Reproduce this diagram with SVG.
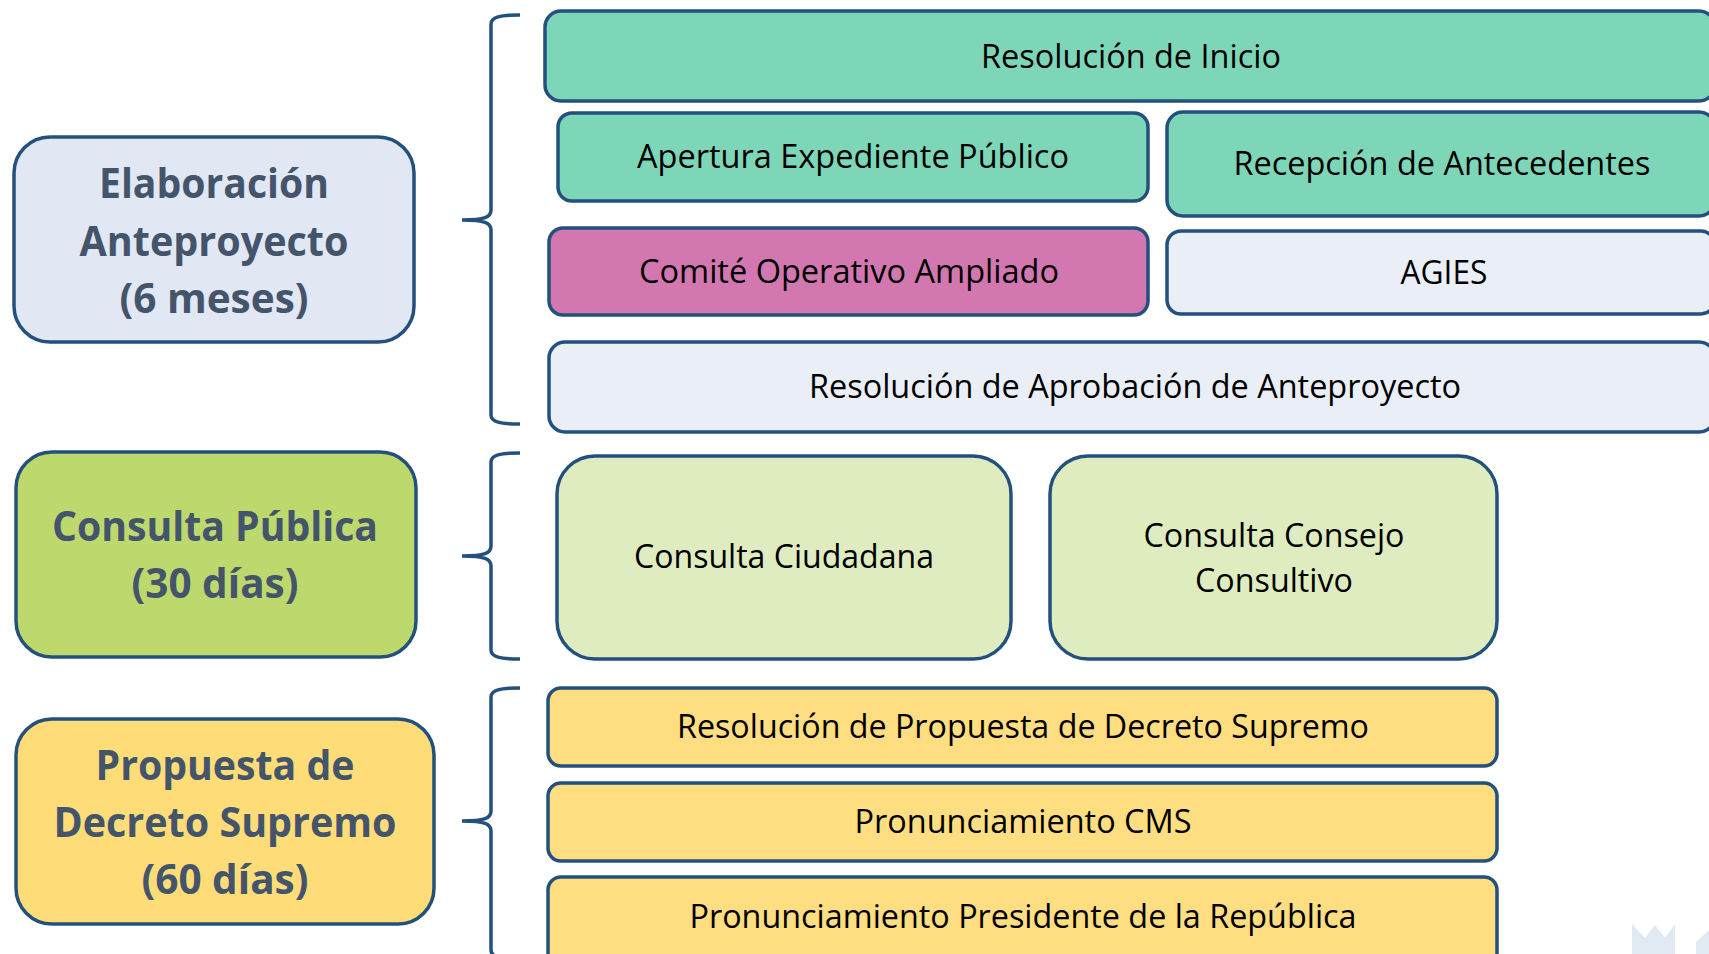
<svg xmlns="http://www.w3.org/2000/svg" width="1709" height="954" viewBox="0 0 1709 954">
<defs>
<style>
.box{stroke:#23507D;stroke-width:3.5}
.phase{font-family:"Open Sans","Liberation Sans",sans-serif;font-weight:bold;font-size:42px;fill:#44546A;text-anchor:middle}
.lbl{font-family:"Open Sans","Liberation Sans",sans-serif;font-size:33px;fill:#000;text-anchor:middle}
.teal{fill:#7ED6B8}
.mag{fill:#D277B0}
.pale{fill:#EAEEF6}
.lgreen{fill:#DFECBF}
.yellow{fill:#FEDE80}
.brace{fill:none;stroke:#23507D;stroke-width:3.5}
.wm{fill:#E1E9F3}
</style>
</defs>
<rect width="1709" height="954" fill="#FFFFFF"/>

<g id="connectors">
<path class="brace" d="M520,15 C500,15 491,17 491,24 L491,210 C491,217 485,220 462,220 C485,220 491,223 491,230 L491,415 C491,422 500,424 520,424"/>
<path class="brace" d="M520,453 C500,453 491,455 491,462 L491,546 C491,553 485,556 462,556 C485,556 491,559 491,566 L491,650 C491,657 500,659 520,659"/>
<path class="brace" d="M520,688 C500,688 491,690 491,697 L491,811 C491,818 485,821 462,821 C485,821 491,824 491,831 L491,950 C491,957 500,960 520,960"/>
</g>

<g id="phase-elaboracion">
<rect class="box" x="14" y="137" width="400" height="205" rx="36" fill="#E1E8F4"/>
<text class="phase" x="214" y="198" textLength="230" lengthAdjust="spacingAndGlyphs">Elaboración</text>
<text class="phase" x="214" y="256" textLength="269" lengthAdjust="spacingAndGlyphs">Anteproyecto</text>
<text class="phase" x="214" y="313" textLength="189" lengthAdjust="spacingAndGlyphs">(6 meses)</text>
</g>

<g id="phase-consulta">
<rect class="box" x="16" y="452" width="400" height="205" rx="36" fill="#BDD96D"/>
<text class="phase" x="215" y="541" textLength="326" lengthAdjust="spacingAndGlyphs">Consulta Pública</text>
<text class="phase" x="215" y="598" textLength="167" lengthAdjust="spacingAndGlyphs">(30 días)</text>
</g>

<g id="phase-propuesta">
<rect class="box" x="16" y="719" width="418" height="205" rx="36" fill="#FEDC78"/>
<text class="phase" x="225" y="780" textLength="259" lengthAdjust="spacingAndGlyphs">Propuesta de</text>
<text class="phase" x="225" y="837" textLength="343" lengthAdjust="spacingAndGlyphs">Decreto Supremo</text>
<text class="phase" x="225" y="894" textLength="167" lengthAdjust="spacingAndGlyphs">(60 días)</text>
</g>

<g id="resolucion-inicio">
<rect class="box teal" x="545" y="11" width="1170" height="90" rx="16"/>
<text class="lbl" x="1131" y="68" textLength="300" lengthAdjust="spacingAndGlyphs">Resolución de Inicio</text>
</g>

<g id="apertura-expediente">
<rect class="box teal" x="558" y="113" width="590" height="88" rx="14"/>
<text class="lbl" x="853" y="168" textLength="432" lengthAdjust="spacingAndGlyphs">Apertura Expediente Público</text>
</g>

<g id="recepcion-antecedentes">
<rect class="box teal" x="1167" y="112" width="548" height="104" rx="16"/>
<text class="lbl" x="1442" y="175" textLength="417" lengthAdjust="spacingAndGlyphs">Recepción de Antecedentes</text>
</g>

<g id="comite-operativo">
<rect class="box mag" x="549" y="228" width="599" height="87" rx="14"/>
<text class="lbl" x="849" y="283" textLength="420" lengthAdjust="spacingAndGlyphs">Comité Operativo Ampliado</text>
</g>

<g id="agies">
<rect class="box pale" x="1167" y="231" width="548" height="83" rx="14"/>
<text class="lbl" x="1444" y="284" textLength="87" lengthAdjust="spacingAndGlyphs">AGIES</text>
</g>

<g id="resolucion-aprobacion">
<rect class="box pale" x="549" y="342" width="1166" height="90" rx="16"/>
<text class="lbl" x="1135" y="398" textLength="652" lengthAdjust="spacingAndGlyphs">Resolución de Aprobación de Anteproyecto</text>
</g>

<g id="consulta-ciudadana">
<rect class="box lgreen" x="557" y="456" width="454" height="203" rx="38"/>
<text class="lbl" x="784" y="568" textLength="300" lengthAdjust="spacingAndGlyphs">Consulta Ciudadana</text>
</g>

<g id="consulta-consejo">
<rect class="box lgreen" x="1050" y="456" width="447" height="203" rx="38"/>
<text class="lbl" x="1274" y="547" textLength="261" lengthAdjust="spacingAndGlyphs">Consulta Consejo</text>
<text class="lbl" x="1274" y="592" textLength="158" lengthAdjust="spacingAndGlyphs">Consultivo</text>
</g>

<g id="resolucion-propuesta">
<rect class="box yellow" x="548" y="688" width="949" height="78" rx="13"/>
<text class="lbl" x="1023" y="738" textLength="692" lengthAdjust="spacingAndGlyphs">Resolución de Propuesta de Decreto Supremo</text>
</g>

<g id="pronunciamiento-cms">
<rect class="box yellow" x="548" y="783" width="949" height="78" rx="13"/>
<text class="lbl" x="1023" y="833" textLength="337" lengthAdjust="spacingAndGlyphs">Pronunciamiento CMS</text>
</g>

<g id="pronunciamiento-presidente">
<rect class="box yellow" x="548" y="877" width="949" height="90" rx="13"/>
<text class="lbl" x="1023" y="928" textLength="667" lengthAdjust="spacingAndGlyphs">Pronunciamiento Presidente de la República</text>
</g>

<g id="watermark">
<polygon class="wm" points="1632,924 1645,938 1655,925 1665,938 1675,924 1675,954 1632,954"/>
<polygon class="wm" points="1696,942 1709,930 1709,954 1696,954"/>
</g>
</svg>
